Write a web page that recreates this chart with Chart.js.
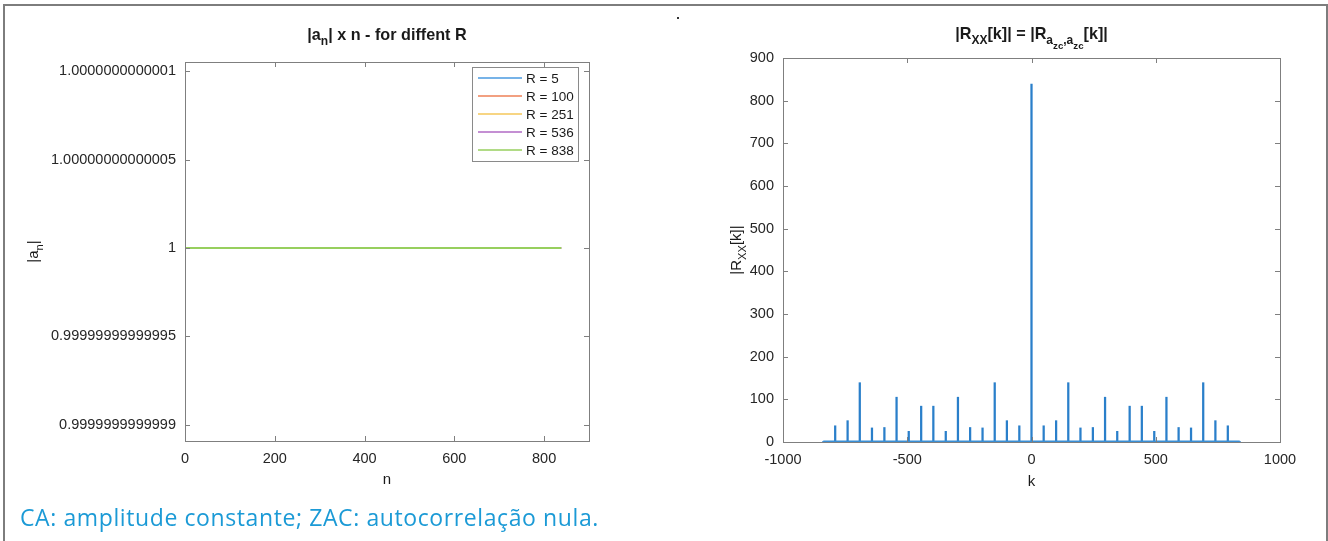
<!DOCTYPE html>
<html>
<head>
<meta charset="utf-8">
<script src="https://cdn.jsdelivr.net/npm/chart.js@4.4.1/dist/chart.umd.min.js"></script>
<style>
html,body{margin:0;padding:0;background:#fff;width:1328px;height:541px;overflow:hidden;}
#moldura{position:absolute;left:3px;top:4px;width:1321px;height:600px;border:2px solid #7d7d7d;}
.painel{position:absolute;top:0;width:664px;height:541px;}
#ponto{position:absolute;left:677px;top:17px;width:2px;height:2px;background:#333;}
#nota{position:absolute;left:20px;top:501px;font-family:"Open Sans",sans-serif;font-size:23px;letter-spacing:0.6px;color:#1b9ad6;white-space:nowrap;}
</style>
</head>
<body>
<div id="moldura"></div>
<div id="ponto"></div>
<div class="painel" style="left:0"><canvas id="chartAmplitude" width="664" height="541"></canvas></div>
<div class="painel" style="left:664px"><canvas id="chartAutocorr" width="664" height="541"></canvas></div>
<div id="nota">CA: amplitude constante; ZAC: autocorrelação nula.</div>

<script>
// ==========================
// DADOS
// ==========================

// |a_n| para cada raiz R (sequencia ZC de 839 amostras, modulo constante 1)
const rootLabels = ["R = 5", "R = 100", "R = 251", "R = 536", "R = 838"];
const rootColors = ["#4a9ae0", "#ee8157", "#f4c75a", "#b06ac4", "#97cf5e"];
const nSamples = [0, 838];
const magnitude = [1, 1];

const nTicks = [0, 200, 400, 600, 800];
const magTicks = [0.9999999999999, 0.99999999999995, 1, 1.00000000000005, 1.0000000000001];
const magTickLabels = ["0.9999999999999", "0.99999999999995", "1", "1.00000000000005", "1.0000000000001"];

// |R_XX[k]| - picos
const peakLags = [-838,-790,-740,-691,-642,-592,-543,-494,-444,-395,-345,-296,-247,-197,-148,-99,-49,
                  0,49,99,148,197,247,296,345,395,444,494,543,592,642,691,740,790,838];
const peakValues = [1,38,50,139,33,34,105,25,84,84,25,105,34,33,139,50,38,
                    839,38,50,139,33,34,105,25,84,84,25,105,34,33,139,50,38,1];
// nivel residual entre os picos
const floorLags = [-838, 838];
const floorValues = [1, 1];

const kTicks = [-1000, -500, 0, 500, 1000];
const kTickLabels = ["-1000", "-500", "0", "500", "1000"];
const rTicks = [0, 100, 200, 300, 400, 500, 600, 700, 800, 900];


// ==========================
// ESTILO
// ==========================

Chart.defaults.font.family = "'Liberation Sans', Arial, sans-serif";
Chart.defaults.color = "#262626";
Chart.defaults.animation = false;

const FONT = "'Liberation Sans', Arial, sans-serif";
const BOX = "#7f7f7f";

// limites do eixo |a_n| em multiplos exatos de 2^-53 (linha em 1 cai no pixel)
const ULP = Math.pow(2, -53);
const magMin = 1 - 982 * ULP;
const magMax = 1 + 946 * ULP;

// texto com subscritos: parts = [[texto, nivel], ...]
function drawRich(ctx, parts, x, y, size, bold, angle) {
  const scale = [1, 0.74, 0.6];
  const drop = [0, 0.32, 0.62];
  const f = (l) => (bold ? "bold " : "") + (size * scale[l]).toFixed(1) + "px " + FONT;
  ctx.save();
  ctx.translate(x, y);
  if (angle) ctx.rotate(angle);
  ctx.textBaseline = "alphabetic";
  ctx.textAlign = "left";
  ctx.fillStyle = "#1a1a1a";
  let w = 0;
  parts.forEach(([t, l]) => { ctx.font = f(l); w += ctx.measureText(t).width; });
  let cx = -w / 2;
  parts.forEach(([t, l]) => {
    ctx.font = f(l);
    ctx.fillText(t, cx, size * drop[l]);
    cx += ctx.measureText(t).width;
  });
  ctx.restore();
}

// caixa + ticks para dentro (estilo MATLAB)
const caixaPlugin = {
  id: "caixa",
  afterDatasetsDraw(chart) {
    const { ctx, chartArea: a } = chart;
    ctx.save();
    ctx.strokeStyle = BOX;
    ctx.lineWidth = 1;
    const tl = 5;
    Object.values(chart.scales).forEach(s => {
      s.ticks.forEach(t => {
        const p = Math.round(s.getPixelForValue(t.value)) + 0.5;
        ctx.beginPath();
        if (s.isHorizontal()) {
          ctx.moveTo(p, a.bottom); ctx.lineTo(p, a.bottom - tl);
          ctx.moveTo(p, a.top); ctx.lineTo(p, a.top + tl);
        } else {
          ctx.moveTo(a.left, p); ctx.lineTo(a.left + tl, p);
          ctx.moveTo(a.right, p); ctx.lineTo(a.right - tl, p);
        }
        ctx.stroke();
      });
    });
    ctx.strokeRect(Math.round(a.left) + 0.5, Math.round(a.top) + 0.5,
                   Math.round(a.right - a.left), Math.round(a.bottom - a.top));
    ctx.restore();
  }
};

// rotulos com subscritos
const rotulosPlugin = {
  id: "rotulos",
  afterDraw(chart, args, opts) {
    const { ctx, chartArea: a } = chart;
    const cx = (a.left + a.right) / 2;
    drawRich(ctx, opts.title, cx, opts.titleY, 16.2, true, 0);
    drawRich(ctx, opts.xLabel, cx, opts.xLabelY, 15, false, 0);
    drawRich(ctx, opts.yLabel, opts.yLabelX, (a.top + a.bottom) / 2, 15, false, -Math.PI / 2);
  }
};

// legenda dentro da area do grafico
const legendaPlugin = {
  id: "legendaInterna",
  afterDraw(chart, args, opts) {
    if (!opts.show) return;
    const { ctx, chartArea: a } = chart;
    const w = 106, h = 94;
    const x0 = a.right - 11 - w, y0 = a.top + 5;
    ctx.save();
    ctx.fillStyle = "#fff";
    ctx.fillRect(x0, y0, w, h);
    ctx.strokeStyle = "#8a8a8a";
    ctx.lineWidth = 1;
    ctx.strokeRect(Math.round(x0) + 0.5, Math.round(y0) + 0.5, w, h);
    ctx.font = "13.5px " + FONT;
    ctx.textBaseline = "middle";
    ctx.fillStyle = "#1a1a1a";
    chart.data.datasets.forEach((d, i) => {
      const y = Math.round(y0 + 11 + i * 18.1);
      ctx.strokeStyle = d.borderColor;
      ctx.lineWidth = 1.5;
      ctx.beginPath();
      ctx.moveTo(x0 + 6, y); ctx.lineTo(x0 + 50, y);
      ctx.stroke();
      ctx.fillText(d.label, x0 + 54, y + 1);
    });
    ctx.restore();
  }
};

function fixTicks(values) {
  return (s) => { s.ticks = values.map(v => ({ value: v })); };
}
function fixWidth(w) {
  return (s) => { s.width = w; s.paddingTop = 0; s.paddingBottom = 0; };
}
function fixHeight(h) {
  return (s) => { s.height = h; s.paddingLeft = 0; s.paddingRight = 0; };
}

const tickFont = { size: 14.5 };


// ==========================
// 1. |a_n| x n
// ==========================

new Chart(
document.getElementById("chartAmplitude"),
{
  type: "line",
  data: {
    datasets: rootLabels.map((lab, i) => ({
      label: lab,
      data: nSamples.map((n, j) => ({ x: n, y: magnitude[j] })),
      borderColor: rootColors[i],
      borderWidth: 2,
      pointRadius: 0,
      order: rootLabels.length - 1 - i
    }))
  },
  options: {
    responsive: false,
    layout: { padding: { top: 62, left: 0, right: 75, bottom: 0 } },
    scales: {
      x: {
        type: "linear", min: 0, max: 900,
        grid: { display: false, drawTicks: false },
        border: { display: false },
        afterBuildTicks: fixTicks(nTicks),
        afterFit: fixHeight(100),
        ticks: { font: tickFont, padding: 9, maxRotation: 0 }
      },
      y: {
        type: "linear", min: magMin, max: magMax,
        grid: { display: false, drawTicks: false },
        border: { display: false },
        afterBuildTicks: fixTicks(magTicks),
        afterFit: fixWidth(185),
        ticks: {
          font: tickFont, padding: 9,
          callback: (v, i) => magTickLabels[i]
        }
      }
    },
    plugins: {
      legend: { display: false },
      tooltip: { enabled: false },
      legendaInterna: { show: true },
      rotulos: {
        title: [["|a", 0], ["n", 1], ["| x n - for diffent R", 0]],
        titleY: 40,
        xLabel: [["n", 0]],
        xLabelY: 484,
        yLabel: [["|a", 0], ["n", 1], ["|", 0]],
        yLabelX: 38
      }
    }
  },
  plugins: [caixaPlugin, rotulosPlugin, legendaPlugin]
});


// ==========================
// 2. |R_XX[k]|
// ==========================

new Chart(
document.getElementById("chartAutocorr"),
{
  type: "bar",
  data: {
    datasets: [
      {
        type: "line",
        label: "residual",
        data: floorLags.map((k, i) => ({ x: k, y: floorValues[i] })),
        borderColor: "#3a8fd6",
        borderWidth: 2,
        pointRadius: 0
      },
      {
        type: "bar",
        label: "|R_XX[k]|",
        data: peakLags.map((k, i) => ({ x: k, y: peakValues[i] })),
        backgroundColor: "#2a7fca",
        barThickness: 1.6,
        borderWidth: 0
      }
    ]
  },
  options: {
    responsive: false,
    layout: { padding: { top: 58, left: 0, right: 48, bottom: 0 } },
    scales: {
      x: {
        type: "linear", min: -1000, max: 1000, offset: false,
        grid: { display: false, drawTicks: false, offset: false },
        border: { display: false },
        afterBuildTicks: fixTicks(kTicks),
        afterFit: fixHeight(99),
        ticks: {
          font: tickFont, padding: 9, maxRotation: 0,
          callback: (v, i) => kTickLabels[i]
        }
      },
      y: {
        type: "linear", min: 0, max: 900,
        grid: { display: false, drawTicks: false },
        border: { display: false },
        afterBuildTicks: fixTicks(rTicks),
        afterFit: fixWidth(119),
        ticks: { font: tickFont, padding: 9 }
      }
    },
    plugins: {
      legend: { display: false },
      tooltip: { enabled: false },
      legendaInterna: { show: false },
      rotulos: {
        title: [["|R", 0], ["XX", 1], ["[k]| = |R", 0], ["a", 1], ["zc", 2], [",", 1], ["a", 1], ["zc", 2], ["[k]|", 0]],
        titleY: 39,
        xLabel: [["k", 0]],
        xLabelY: 486,
        yLabel: [["|R", 0], ["XX", 1], ["[k]|", 0]],
        yLabelX: 77
      }
    }
  },
  plugins: [caixaPlugin, rotulosPlugin, legendaPlugin]
});
</script>
</body>
</html>
